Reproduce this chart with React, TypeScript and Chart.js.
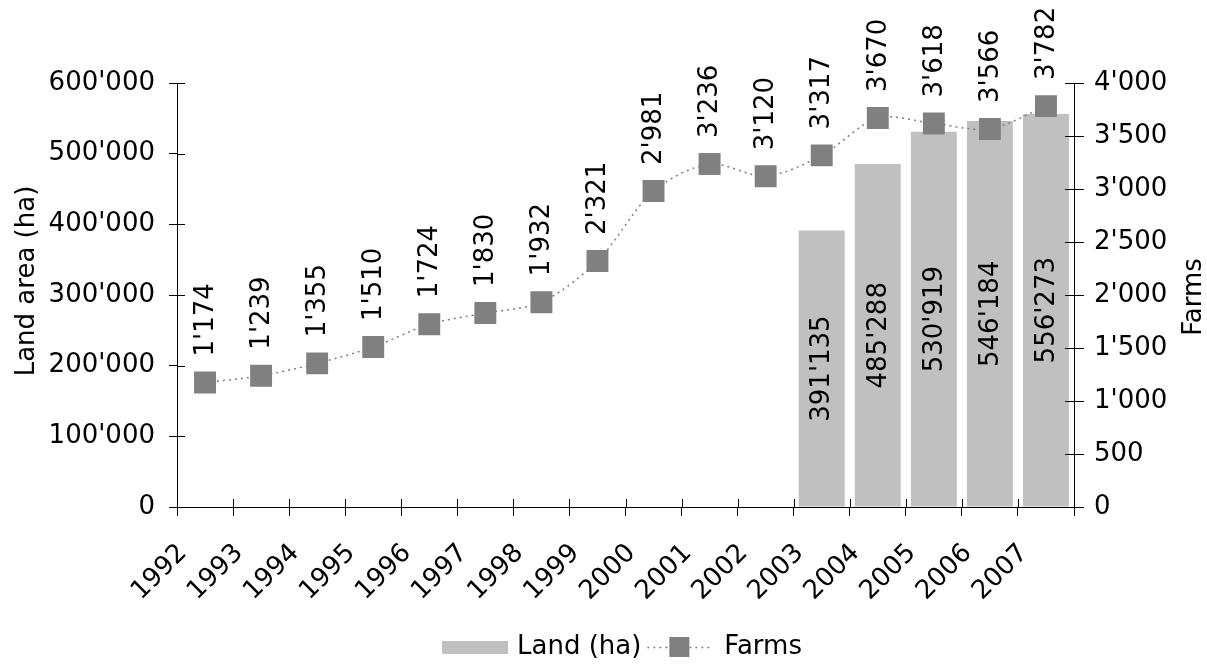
import React, { useEffect, useRef } from "react";
import { Chart, registerables } from "chart.js";

Chart.register(...registerables);

const years = ["1992","1993","1994","1995","1996","1997","1998","1999","2000","2001","2002","2003","2004","2005","2006","2007"];
const landHa = [null,null,null,null,null,null,null,null,null,null,null,391135,485288,530919,546184,556273];
const farms = [1174,1239,1355,1510,1724,1830,1932,2321,2981,3236,3120,3317,3670,3618,3566,3782];
const leftTicksMax = 600000;
const leftTicksStep = 100000;
const rightTicksMax = 4000;
const rightTicksStep = 500;

const FONT = "'DejaVu Sans', sans-serif";
const FS = 26;
const BAR_COLOR = "#c0c0c0";
const FARM_COLOR = "#808080";

const fmt = (n: number) => String(Math.round(n)).replace(/\B(?=(\d{3})+(?!\d))/g, "'");

const customPlugin = {
  id: "custom",
  afterDatasetsDraw(chart: any) {
    const ctx = chart.ctx;
    ctx.save();
    ctx.font = `${FS}px ${FONT}`;
    ctx.fillStyle = "#000";
    const barMeta = chart.getDatasetMeta(0);
    barMeta.data.forEach((el: any, i: number) => {
      const v = landHa[i];
      if (v == null) return;
      const cy = (el.y + el.base) / 2;
      ctx.save();
      ctx.translate(el.x, cy);
      ctx.rotate(-Math.PI / 2);
      ctx.textAlign = "center";
      ctx.textBaseline = "middle";
      ctx.fillText(fmt(v), 0, 1);
      ctx.restore();
    });
    const lineMeta = chart.getDatasetMeta(1);
    lineMeta.data.forEach((el: any, i: number) => {
      ctx.save();
      ctx.translate(el.x, el.y - 26);
      ctx.rotate(-Math.PI / 2);
      ctx.textAlign = "left";
      ctx.textBaseline = "middle";
      ctx.fillText(fmt(farms[i]), 0, 1);
      ctx.restore();
    });
    ctx.restore();
  },
  afterDraw(chart: any) {
    const ctx = chart.ctx;
    const area = chart.chartArea;
    ctx.save();
    ctx.strokeStyle = "#000";
    ctx.lineWidth = 1;
    const y = chart.scales.y;
    const y1 = chart.scales.y1;
    ctx.beginPath();
    y.ticks.forEach((t: any) => {
      const py = Math.round(y.getPixelForValue(t.value)) + 0.5;
      ctx.moveTo(area.left, py);
      ctx.lineTo(area.left + 8, py);
    });
    y1.ticks.forEach((t: any) => {
      const py = Math.round(y1.getPixelForValue(t.value)) + 0.5;
      ctx.moveTo(area.right - 9, py);
      ctx.lineTo(area.right, py);
    });
    const n = years.length;
    for (let i = 0; i <= n; i++) {
      const px = Math.round(area.left + (i * (area.right - area.left)) / n) + 0.5;
      ctx.moveTo(px, area.bottom);
      ctx.lineTo(px, area.bottom - 8);
    }
    ctx.stroke();

    ctx.fillStyle = "#000";
    ctx.font = `${FS}px ${FONT}`;
    ctx.textAlign = "center";
    ctx.textBaseline = "middle";
    ctx.save();
    ctx.translate(27, 281);
    ctx.rotate(-Math.PI / 2);
    ctx.fillText("Land area (ha)", 0, 0);
    ctx.restore();
    ctx.save();
    ctx.translate(1194, 297);
    ctx.rotate(-Math.PI / 2);
    ctx.fillText("Farms", 0, 0);
    ctx.restore();

    const ly = 647;
    let lx = 442;
    ctx.fillStyle = BAR_COLOR;
    ctx.fillRect(lx, ly - 6, 66, 13);
    lx += 66 + 9;
    ctx.fillStyle = "#000";
    ctx.textAlign = "left";
    ctx.fillText("Land (ha)", lx, ly);
    lx += ctx.measureText("Land (ha)").width + 6;
    ctx.strokeStyle = FARM_COLOR;
    ctx.lineWidth = 1.5;
    ctx.setLineDash([2, 4]);
    ctx.beginPath();
    ctx.moveTo(lx, ly + 0.5);
    ctx.lineTo(lx + 64, ly + 0.5);
    ctx.stroke();
    ctx.setLineDash([]);
    ctx.fillStyle = FARM_COLOR;
    ctx.fillRect(lx + 32 - 10, ly - 10, 20, 20);
    lx += 64 + 13;
    ctx.fillStyle = "#000";
    ctx.fillText("Farms", lx, ly);
    ctx.restore();
  },
};

export default function App() {
  const ref = useRef<HTMLCanvasElement | null>(null);
  useEffect(() => {
    if (!ref.current) return;
    const chart = new Chart(ref.current, {
      type: "bar",
      data: {
        labels: years,
        datasets: [
          {
            type: "bar",
            label: "Land (ha)",
            data: landHa as any,
            backgroundColor: BAR_COLOR,
            yAxisID: "y",
            barPercentage: 0.82,
            categoryPercentage: 1,
            order: 2,
          },
          {
            type: "line",
            label: "Farms",
            data: farms,
            yAxisID: "y1",
            borderColor: FARM_COLOR,
            borderWidth: 1.5,
            borderDash: [2, 4],
            pointStyle: "rect",
            pointRadius: 15.5,
            pointHoverRadius: 15.5,
            pointBackgroundColor: FARM_COLOR,
            pointBorderWidth: 0,
            tension: 0.3,
            order: 1,
          } as any,
        ],
      },
      options: {
        responsive: false,
        animation: false,
        events: [],
        layout: { padding: { top: 83, left: 0, right: 0, bottom: 0 } },
        plugins: { legend: { display: false }, tooltip: { enabled: false }, title: { display: false } },
        scales: {
          x: {
            type: "category",
            offset: true,
            afterFit: (s: any) => { s.height = 157; },
            border: { display: true, color: "#000", width: 1 },
            grid: { display: true, offset: true, drawOnChartArea: false, drawTicks: true, tickLength: 9, color: "#000" },
            ticks: { color: "#000", font: { family: FONT, size: FS }, minRotation: 45, maxRotation: 45, padding: 22, labelOffset: -22, autoSkip: false },
          },
          y: {
            position: "left",
            min: 0,
            max: leftTicksMax,
            afterFit: (s: any) => { s.width = 177; },
            border: { display: true, color: "#000", width: 1 },
            grid: { display: true, drawOnChartArea: false, drawTicks: true, tickLength: 8, color: "#000" },
            ticks: { stepSize: leftTicksStep, color: "#000", font: { family: FONT, size: FS }, padding: 14, callback: (v: any) => fmt(Number(v)) },
          },
          y1: {
            position: "right",
            min: 0,
            max: rightTicksMax,
            afterFit: (s: any) => { s.width = 133; },
            border: { display: true, color: "#000", width: 1 },
            grid: { display: true, drawOnChartArea: false, drawTicks: true, tickLength: 10, color: "#000" },
            ticks: { stepSize: rightTicksStep, color: "#000", font: { family: FONT, size: FS }, padding: 10, callback: (v: any) => fmt(Number(v)) },
          },
        },
      } as any,
      plugins: [customPlugin],
    });
    return () => chart.destroy();
  }, []);
  return (
    <div style={{ position: "absolute", left: 0, top: 0, width: 1207, height: 664, background: "#fff" }}>
      <canvas ref={ref} width={1207} height={664} style={{ display: "block", width: 1207, height: 664 }} />
    </div>
  );
}
